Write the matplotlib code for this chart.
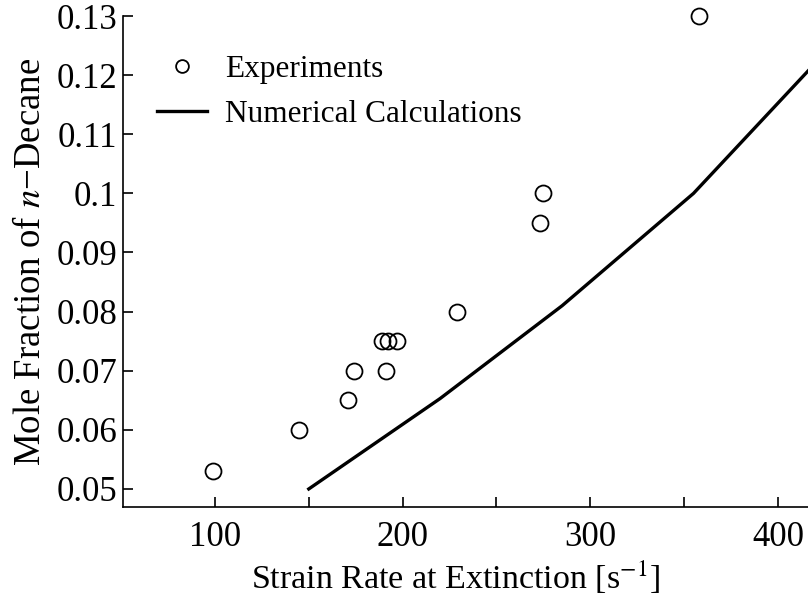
"""n-데칸 소염 변형률: 실험값과 계산값 비교."""

import matplotlib

matplotlib.use("Agg")
import matplotlib.pyplot as plt
from matplotlib.ticker import FuncFormatter, MultipleLocator

plt.rcParams["font.family"] = ["Liberation Serif", "DejaVu Serif"]
plt.rcParams["mathtext.fontset"] = "stix"

# 실험 데이터 (strain rate [1/s], mole fraction)
exp_strain = [99, 145, 171, 174, 189, 191, 192, 197, 229, 273, 275, 358]
exp_fraction = [0.053, 0.060, 0.065, 0.070, 0.075, 0.070, 0.075, 0.075, 0.080, 0.095, 0.100, 0.130]

# 수치 계산 곡선
calc_strain = [150, 220, 285, 355, 416]
calc_fraction = [0.050, 0.0653, 0.081, 0.100, 0.1207]

fig = plt.figure(figsize=(8.08, 5.98), dpi=100)
ax = fig.add_axes([0.1522, 0.1522, 0.8478, 0.821])

ax.plot(exp_strain, exp_fraction, linestyle="none", marker="o", markersize=11.5,
        markerfacecolor="none", markeredgecolor="black", markeredgewidth=1.3,
        clip_on=False, label="Experiments")
ax.plot(calc_strain, calc_fraction, color="black", linewidth=2.4,
        label="Numerical Calculations")

ax.set_xlim(51, 416)
ax.set_ylim(0.04695, 0.13)

ax.spines["top"].set_visible(False)
ax.spines["right"].set_visible(False)
for side in ("left", "bottom"):
    ax.spines[side].set_linewidth(1.2)

ax.xaxis.set_major_locator(MultipleLocator(100))
ax.xaxis.set_minor_locator(MultipleLocator(50))
ax.yaxis.set_major_locator(MultipleLocator(0.01))
ax.yaxis.set_major_formatter(FuncFormatter(lambda v, _: f"{v:g}"))
ax.tick_params(which="both", direction="in", width=1.2, length=7, labelsize=25)
ax.tick_params(axis="x", which="both", pad=10)
ax.tick_params(axis="y", which="both", pad=4)
ax.tick_params(axis="y", which="minor", left=False)

ax.set_xlabel("Strain Rate at Extinction [s$^{-1}$]", fontsize=24.5, labelpad=4)
ax.xaxis.set_label_coords(0.485, -0.105)
ax.set_ylabel("Mole Fraction of $n$\u2212Decane", fontsize=26.5, labelpad=6)

# 범례는 테두리 없이 좌상단에
ax.legend(loc="upper left", bbox_to_anchor=(0.008, 0.978), frameon=False,
          fontsize=22.5, handlelength=1.6, handletextpad=0.6,
          labelspacing=0.5, markerscale=0.8)

fig.savefig("out.png", dpi=100)
